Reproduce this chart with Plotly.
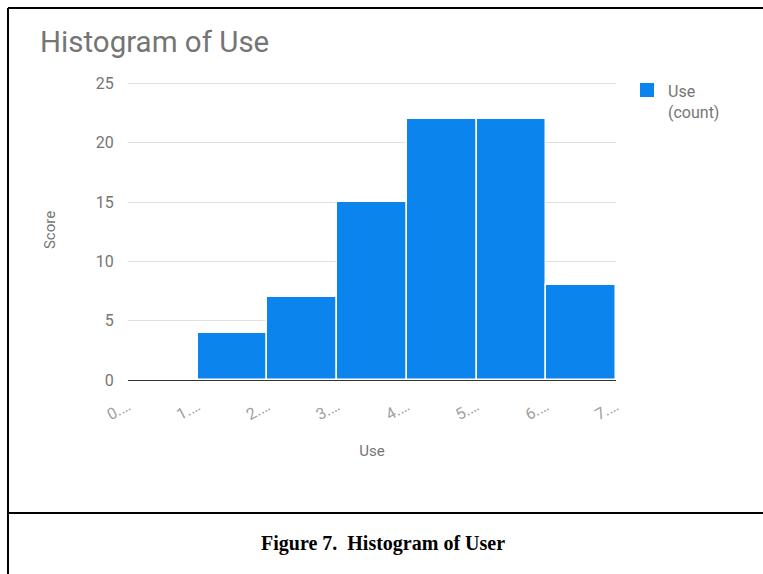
import plotly.graph_objects as go

# Histogram of "Use": bin edges 0..7, one count per unit-wide bin
bin_left = [0, 1, 2, 3, 4, 5, 6]
counts = [0, 4, 7, 15, 22, 22, 8]
tick_vals = [0, 1, 2, 3, 4, 5, 6, 7]
tick_text = ["0.\u2026", "1.\u2026", "2.\u2026", "3.\u2026", "4.\u2026", "5.\u2026", "6.\u2026", "7.\u2026"]
y_ticks = [0, 5, 10, 15, 20, 25]
series_name = ["Use", "(count)"]

W, H = 763, 574
L, R, T, B = 128, 147, 80, 194
pw, ph = W - L - R, H - T - B


def px(x):
    return (x - L) / pw


def py(y):
    return (H - B - y) / ph


GREY = "#757575"
LIGHT = "#9e9e9e"
BLUE = "#0b84ed"
FONT = "Roboto"
NOTICK = "rgba(0,0,0,0)"

fig = go.Figure()
fig.add_trace(go.Bar(
    x=[b + 0.5 for b in bin_left],
    y=counts,
    width=1,
    marker=dict(color=BLUE, line=dict(color="white", width=1.5)),
    name=" ".join(series_name),
    showlegend=False,
))

fig.update_layout(
    width=W, height=H,
    margin=dict(l=L, r=R, t=T, b=B),
    paper_bgcolor="white", plot_bgcolor="white",
    font=dict(family=FONT, color=GREY, size=15),
    bargap=0,
    showlegend=False,
    xaxis=dict(
        range=[0, 7], tickvals=tick_vals, ticktext=tick_text,
        tickangle=-28, showgrid=False, zeroline=False, showline=False,
        ticks="outside", ticklen=10, tickcolor=NOTICK,
        tickfont=dict(family=FONT, size=16, color=LIGHT),
        title=dict(text="Use", font=dict(family=FONT, size=15, color=GREY), standoff=22),
    ),
    yaxis=dict(
        range=[0, 25.3], tickvals=y_ticks, showgrid=True, gridcolor="#e0e0e0",
        gridwidth=1, zeroline=True, zerolinecolor="#333333", zerolinewidth=1.5,
        showline=False, ticks="outside", ticklen=10, tickcolor=NOTICK,
        tickfont=dict(family=FONT, size=16, color=GREY),
        title=dict(text="Score", font=dict(family=FONT, size=15, color=GREY), standoff=36),
    ),
)

# Legend: colour swatch and two-line label
fig.add_shape(type="rect", xref="paper", yref="paper",
              x0=px(640), x1=px(654), y0=py(97), y1=py(83),
              fillcolor=BLUE, line=dict(width=0))
fig.add_annotation(
    text="<br>".join(series_name), xref="paper", yref="paper",
    x=px(666), y=py(80), xanchor="left", yanchor="top", align="left",
    showarrow=False, font=dict(family=FONT, size=16, color=GREY),
)

# Chart title
fig.add_annotation(
    text="Histogram of Use", xref="paper", yref="paper",
    x=px(38), y=py(42), xanchor="left", yanchor="middle",
    showarrow=False, font=dict(family=FONT, size=29.5, color=GREY),
)

# Caption under the chart
fig.add_annotation(
    text="<b>Figure 7.  Histogram of User</b>", xref="paper", yref="paper",
    x=px(383), y=py(543), xanchor="center", yanchor="middle",
    showarrow=False, font=dict(family="Liberation Serif", size=20, color="black"),
)

# Frame lines around the figure and caption
frame = dict(color="black", width=2)
fig.add_shape(type="line", xref="paper", yref="paper",
              x0=px(8), x1=px(8), y0=py(8), y1=py(574), line=frame)
fig.add_shape(type="line", xref="paper", yref="paper",
              x0=px(8), x1=px(763), y0=py(8), y1=py(8), line=frame)
fig.add_shape(type="line", xref="paper", yref="paper",
              x0=px(8), x1=px(763), y0=py(513), y1=py(513), line=frame)

fig.write_html("out.html")
